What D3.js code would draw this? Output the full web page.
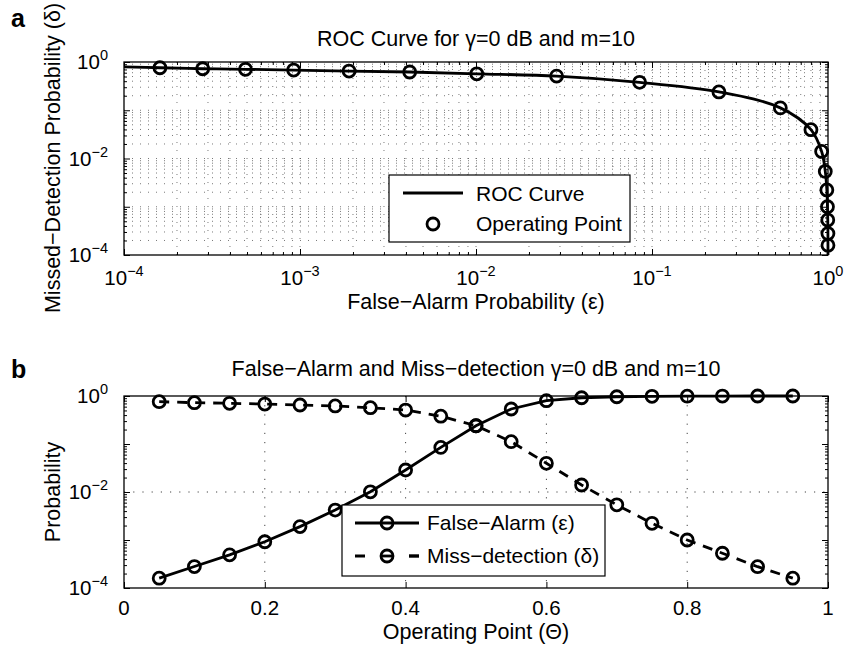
<!DOCTYPE html>
<html>
<head>
<meta charset="utf-8">
<script src="https://cdn.jsdelivr.net/npm/d3@7"></script>
<style>
body { margin: 0; background: #fff; }
svg text { font-family: "Liberation Sans", Arial, Helvetica, sans-serif; fill: #000; }
</style>
</head>
<body>
<svg id="chart" width="844" height="649"></svg>
<script>
// operating points (threshold Theta)
var theta = [0.05, 0.10, 0.15, 0.20, 0.25, 0.30, 0.35, 0.40, 0.45, 0.50,
             0.55, 0.60, 0.65, 0.70, 0.75, 0.80, 0.85, 0.90, 0.95];
var falseAlarm = [1.6e-4, 2.8e-4, 4.9e-4, 9.2e-4, 1.9e-3, 4.2e-3, 1.01e-2, 2.87e-2, 8.5e-2, 0.24,
                  0.536, 0.80, 0.92, 0.965, 0.985, 0.993, 0.997, 0.999, 0.9995];
var missDetection = [0.76, 0.725, 0.705, 0.68, 0.65, 0.62, 0.57, 0.51, 0.38, 0.24,
                     0.112, 0.0396, 0.014, 5.4e-3, 2.23e-3, 1.0e-3, 5.3e-4, 2.78e-4, 1.6e-4];

// ROC curve (false alarm, missed detection)
var rocFa = [1e-4, 1.6e-4, 2.8e-4, 4.9e-4, 9.2e-4, 1.9e-3, 4.2e-3, 1.01e-2, 2.87e-2, 8.5e-2, 0.24,
             0.536, 0.80, 0.92, 0.965, 0.985, 0.993, 0.997, 0.999, 0.9995, 1];
var rocMd = [0.79, 0.76, 0.725, 0.705, 0.68, 0.65, 0.62, 0.57, 0.51, 0.38, 0.24,
             0.112, 0.0396, 0.014, 5.4e-3, 2.23e-3, 1.0e-3, 5.3e-4, 2.78e-4, 1.6e-4, 1e-4];

var logTicks = [1e-4, 1e-3, 1e-2, 1e-1, 1];
var yLabelTicks = [1e-4, 1e-2, 1];
var linTicks = [0, 0.2, 0.4, 0.6, 0.8, 1];

var svg = d3.select("#chart");
var FS = 21.5, TICKFS = 20.5;

function minorLog() {
  var t = [];
  for (var e = -4; e < 0; e++)
    for (var m = 2; m <= 9; m++) t.push(m * Math.pow(10, e));
  return t;
}

function ticks(g, axis, values, size, pos) {
  var a = g.append("g").attr("transform", pos)
    .call(axis.tickValues(values).tickSizeInner(size).tickSizeOuter(0).tickFormat(""));
  a.select(".domain").remove();
  a.selectAll("line").attr("stroke", "#000").attr("stroke-width", 1);
}

function pow10(sel) {
  sel.text("10")
    .append("tspan").attr("dy", -9).attr("font-size", 14.5)
    .text(function(d) { var e = Math.round(Math.log10(d)); return e === 0 ? "0" : "\u2212" + (-e); });
}

function frame(L, T, R, B) {
  svg.append("rect").attr("x", L).attr("y", T).attr("width", R - L).attr("height", B - T)
    .attr("fill", "none").attr("stroke", "#000").attr("stroke-width", 1.3);
}

// ---------------- panel a : ROC ----------------
var x1 = d3.scaleLog().domain([1e-4, 1]).range([124, 828]);
var y1 = d3.scaleLog().domain([1e-4, 1]).range([255, 62]);

var gridVals = logTicks.concat(minorLog()).filter(function(d) { return d > 1e-4 && d < 1; });
var grid1 = svg.append("g");
grid1.selectAll(".gx").data(gridVals).enter().append("line")
  .attr("x1", function(d) { return x1(d); }).attr("x2", function(d) { return x1(d); })
  .attr("y1", 62).attr("y2", 255)
  .attr("stroke", "#555").attr("stroke-width", 0.8).attr("stroke-dasharray", "1,7");
grid1.selectAll(".gy").data(gridVals).enter().append("line")
  .attr("y1", function(d) { return y1(d); }).attr("y2", function(d) { return y1(d); })
  .attr("x1", 124).attr("x2", 828)
  .attr("stroke", "#555").attr("stroke-width", 0.8).attr("stroke-dasharray", "1,7");

ticks(svg, d3.axisBottom(x1), logTicks, -6, "translate(0,255)");
ticks(svg, d3.axisTop(x1), logTicks, -6, "translate(0,62)");
ticks(svg, d3.axisBottom(x1), minorLog(), -3, "translate(0,255)");
ticks(svg, d3.axisTop(x1), minorLog(), -3, "translate(0,62)");
ticks(svg, d3.axisLeft(y1), logTicks, -6, "translate(124,0)");
ticks(svg, d3.axisRight(y1), logTicks, -6, "translate(828,0)");
ticks(svg, d3.axisLeft(y1), minorLog(), -3, "translate(124,0)");
ticks(svg, d3.axisRight(y1), minorLog(), -3, "translate(828,0)");
frame(124, 62, 828, 255);

var roc = rocFa.map(function(d, i) { return [x1(d), y1(rocMd[i])]; });
svg.append("path").attr("d", d3.line().curve(d3.curveCatmullRom.alpha(0.5))(roc))
  .attr("fill", "none").attr("stroke", "#000").attr("stroke-width", 2.8);
svg.selectAll(".op").data(falseAlarm).enter().append("circle")
  .attr("cx", function(d) { return x1(d); })
  .attr("cy", function(d, i) { return y1(missDetection[i]); })
  .attr("r", 6).attr("fill", "none").attr("stroke", "#000").attr("stroke-width", 2.8);

svg.selectAll(".xl1").data(logTicks).enter().append("text")
  .attr("x", function(d) { return x1(d); }).attr("y", 285)
  .attr("text-anchor", "middle").attr("font-size", TICKFS).call(pow10);
svg.selectAll(".yl1").data(yLabelTicks).enter().append("text")
  .attr("x", 108).attr("y", function(d) { return y1(d) + 7; })
  .attr("text-anchor", "end").attr("font-size", TICKFS).call(pow10);

svg.append("text").attr("x", 476).attr("y", 46).attr("text-anchor", "middle").attr("font-size", FS)
  .text("ROC Curve for \u03b3=0 dB and m=10");
svg.append("text").attr("x", 476).attr("y", 309).attr("text-anchor", "middle").attr("font-size", FS)
  .text("False\u2212Alarm Probability (\u03b5)");
svg.append("text").attr("transform", "translate(60,158) rotate(-90)").attr("text-anchor", "middle")
  .attr("font-size", FS).text("Missed\u2212Detection Probability (\u03b4)");
svg.append("text").attr("x", 11).attr("y", 27).attr("font-size", 25).attr("font-weight", "bold").text("a");

// legend a
var lg1 = svg.append("g");
lg1.append("rect").attr("x", 389).attr("y", 175).attr("width", 241).attr("height", 67)
  .attr("fill", "#fff").attr("stroke", "#000").attr("stroke-width", 1.2);
lg1.append("line").attr("x1", 403).attr("x2", 463).attr("y1", 193).attr("y2", 193)
  .attr("stroke", "#000").attr("stroke-width", 2.8);
lg1.append("circle").attr("cx", 433).attr("cy", 224).attr("r", 6)
  .attr("fill", "none").attr("stroke", "#000").attr("stroke-width", 2.8);
lg1.append("text").attr("x", 476).attr("y", 201).attr("font-size", 21).text("ROC Curve");
lg1.append("text").attr("x", 476).attr("y", 231).attr("font-size", 21).text("Operating Point");

// ---------------- panel b : probabilities vs threshold ----------------
var x2 = d3.scaleLinear().domain([0, 1]).range([124, 828]);
var y2 = d3.scaleLog().domain([1e-4, 1]).range([588, 396]);

var grid2 = svg.append("g");
grid2.selectAll(".gx").data([0.2, 0.4, 0.6, 0.8]).enter().append("line")
  .attr("x1", function(d) { return x2(d); }).attr("x2", function(d) { return x2(d); })
  .attr("y1", 396).attr("y2", 588)
  .attr("stroke", "#444").attr("stroke-width", 1).attr("stroke-dasharray", "1.2,8");
grid2.selectAll(".gy").data([1e-2]).enter().append("line")
  .attr("y1", function(d) { return y2(d); }).attr("y2", function(d) { return y2(d); })
  .attr("x1", 124).attr("x2", 828)
  .attr("stroke", "#444").attr("stroke-width", 1).attr("stroke-dasharray", "1.2,8");

ticks(svg, d3.axisBottom(x2), linTicks, -6, "translate(0,588)");
ticks(svg, d3.axisTop(x2), linTicks, -6, "translate(0,396)");
ticks(svg, d3.axisLeft(y2), logTicks, -6, "translate(124,0)");
ticks(svg, d3.axisRight(y2), logTicks, -6, "translate(828,0)");
ticks(svg, d3.axisLeft(y2), minorLog(), -3, "translate(124,0)");
ticks(svg, d3.axisRight(y2), minorLog(), -3, "translate(828,0)");
frame(124, 396, 828, 588);

var probLine = d3.line().x(function(d, i) { return x2(theta[i]); }).y(function(d) { return y2(d); });
svg.append("path").attr("d", probLine(falseAlarm))
  .attr("fill", "none").attr("stroke", "#000").attr("stroke-width", 2.8);
svg.append("path").attr("d", probLine(missDetection))
  .attr("fill", "none").attr("stroke", "#000").attr("stroke-width", 2.8).attr("stroke-dasharray", "10,8");
[falseAlarm, missDetection].forEach(function(series) {
  svg.append("g").selectAll("circle").data(series).enter().append("circle")
    .attr("cx", function(d, i) { return x2(theta[i]); })
    .attr("cy", function(d) { return y2(d); })
    .attr("r", 6).attr("fill", "none").attr("stroke", "#000").attr("stroke-width", 2.8);
});

svg.selectAll(".xl2").data(linTicks).enter().append("text")
  .attr("x", function(d) { return x2(d); }).attr("y", 615)
  .attr("text-anchor", "middle").attr("font-size", TICKFS)
  .text(function(d) { return d3.format("~g")(d); });
svg.selectAll(".yl2").data(yLabelTicks).enter().append("text")
  .attr("x", 108).attr("y", function(d) { return y2(d) + 7; })
  .attr("text-anchor", "end").attr("font-size", TICKFS).call(pow10);

svg.append("text").attr("x", 476).attr("y", 376).attr("text-anchor", "middle").attr("font-size", FS)
  .text("False\u2212Alarm and Miss\u2212detection \u03b3=0 dB and m=10");
svg.append("text").attr("x", 476).attr("y", 639).attr("text-anchor", "middle").attr("font-size", FS)
  .text("Operating Point (\u0398)");
svg.append("text").attr("transform", "translate(60,492) rotate(-90)").attr("text-anchor", "middle")
  .attr("font-size", FS).text("Probability");
svg.append("text").attr("x", 11).attr("y", 378).attr("font-size", 25).attr("font-weight", "bold").text("b");

// legend b
var lg2 = svg.append("g");
lg2.append("rect").attr("x", 342).attr("y", 505).attr("width", 263).attr("height", 71)
  .attr("fill", "#fff").attr("stroke", "#000").attr("stroke-width", 1.2);
lg2.append("line").attr("x1", 355).attr("x2", 419).attr("y1", 523).attr("y2", 523)
  .attr("stroke", "#000").attr("stroke-width", 2.8);
lg2.append("line").attr("x1", 355).attr("x2", 419).attr("y1", 556).attr("y2", 556)
  .attr("stroke", "#000").attr("stroke-width", 2.8).attr("stroke-dasharray", "10,44");
lg2.append("line").attr("x1", 409).attr("x2", 419).attr("y1", 556).attr("y2", 556)
  .attr("stroke", "#000").attr("stroke-width", 2.8);
lg2.selectAll("circle").data([523, 556]).enter().append("circle")
  .attr("cx", 387).attr("cy", function(d) { return d; }).attr("r", 6)
  .attr("fill", "none").attr("stroke", "#000").attr("stroke-width", 2.8);
lg2.append("line").attr("x1", 381).attr("x2", 393).attr("y1", 556).attr("y2", 556)
  .attr("stroke", "#000").attr("stroke-width", 2.8);
lg2.append("text").attr("x", 427).attr("y", 530).attr("font-size", 21).text("False\u2212Alarm (\u03b5)");
lg2.append("text").attr("x", 427).attr("y", 563).attr("font-size", 21).text("Miss\u2212detection (\u03b4)");
</script>
</body>
</html>
